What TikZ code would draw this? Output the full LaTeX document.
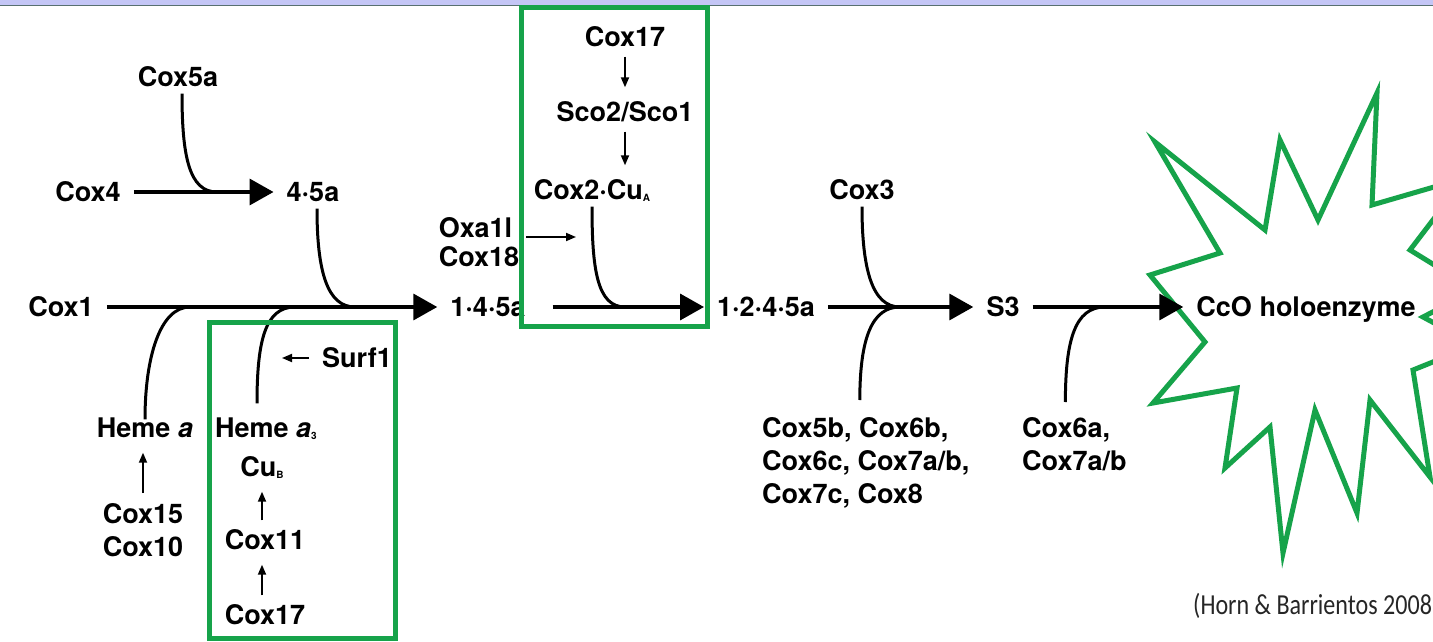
\documentclass[tikz,border=0pt]{standalone}
\usepackage{fontspec}
\setmainfont{TeX Gyre Heros}
\newfontfamily\capfont{Carlito}
\usepackage{xcolor}
\usetikzlibrary{arrows.meta}
\definecolor{boxgreen}{RGB}{22,163,74}
\definecolor{bandblue}{RGB}{196,198,246}
\definecolor{bandline}{RGB}{88,112,112}
\newcommand{\tinysub}[1]{\raisebox{-2pt}{\fontsize{10}{10}\selectfont #1}}
\tikzset{
  lbl/.style={font=\fontsize{27}{31}\selectfont\bfseries, inner sep=7pt, text height=19pt, text depth=0pt},
  multi/.style={font=\fontsize{27}{33}\selectfont\bfseries, inner sep=7pt, align=left},
  mainarrow/.style={line width=3.6pt, -{Triangle[length=24pt,width=26pt]}, shorten <=6pt, shorten >=6pt},
  joinline/.style={line width=3pt},
  smallarrow/.style={line width=1.8pt, -{Triangle[length=10pt,width=8pt]}, shorten <=3pt, shorten >=8pt},
  greenframe/.style={draw=boxgreen, line width=5pt}
}
\begin{document}
\begin{tikzpicture}[x=1pt,y=-1pt]
\useasboundingbox (0,0) rectangle (1433,642);
\clip (0,0) rectangle (1433,642);
\fill[white] (0,0) rectangle (1433,642);
\fill[bandblue] (0,0) rectangle (1433,5);
\draw[bandline, line width=1.5pt] (0,5.5) -- (1433,5.5);

\draw[boxgreen, line width=5pt] (1155,142) -- (1265,230) -- (1280,140) -- (1318,220) -- (1377,93) -- (1372,205) -- (1465,178) -- (1410,250) -- (1475,290) -- (1423,317) -- (1475,345) -- (1413,370) -- (1430,477) -- (1370,400) -- (1357,513) -- (1315,410) -- (1283,553) -- (1270,427) -- (1225,468) -- (1237,388) -- (1153,403) -- (1205,342) -- (1150,275) -- (1220,253) -- cycle;

\node[lbl] (cox5a) at (178,77) {Cox5a};
\node[lbl] (cox4) at (88,192) {Cox4};
\node[lbl] (n45a) at (313,192) {4·5a};
\node[lbl] (cox1) at (61,307) {Cox1};
\node[lbl] (n145a) at (488,307) {1·4·5a};
\node[lbl] (n1245a) at (766,307) {1·2·4·5a};
\node[lbl] (s3) at (1003,307) {S3};
\node[lbl] (cco) at (1306,307) {CcO holoenzyme};
\node[lbl] (hemea) at (145,428) {Heme \textit{a}};
\node[lbl] (hemea3) at (266,428) {Heme \textit{a}\tinysub{3}};
\node[lbl] (cub) at (262,467) {Cu\tinysub{B}};
\node[multi, align=center] (cox15) at (143,530) {Cox15\\Cox10};
\node[lbl] (cox11) at (265,540) {Cox11};
\node[lbl] (cox17b) at (265,615) {Cox17};
\node[lbl] (surf1) at (357,358) {Surf1};
\node[lbl] (cox17a) at (625,37) {Cox17};
\node[lbl] (sco) at (625,112) {Sco2/Sco1};
\node[lbl] (cox2) at (592,190) {Cox2·Cu\tinysub{A}};
\node[multi, font=\fontsize{27}{29}\selectfont\bfseries] (oxa) at (479,242) {Oxa1l\\Cox18};
\node[lbl] (cox3) at (862,190) {Cox3};
\node[multi, anchor=north west] (cox5b) at (755,410) {Cox5b, Cox6b,\\Cox6c, Cox7a/b,\\Cox7c, Cox8};
\node[multi, anchor=north west] (cox6a) at (1015,410) {Cox6a,\\Cox7a/b};
\node[font=\capfont\fontsize{29}{32}\selectfont, text=black!85, anchor=west, inner sep=0pt] (cite) at (1193,606) {\scalebox{0.83}[1]{(Horn \& Barrientos 2008}};

\coordinate (j5a) at (217,192);
\coordinate (j45) at (355,307);
\coordinate (jheme) at (190,307);
\coordinate (jheme3) at (295,307);
\coordinate (jcox2) at (625,307);
\coordinate (jcox3) at (900,307);
\coordinate (jcox6) at (1105,307);
\coordinate (surfend) at (282,358);
\coordinate (oxaend) at (576,237);

\draw[mainarrow] (cox4) -- (n45a);
\draw[mainarrow] (cox1) -- (n145a);
\draw[mainarrow, shorten <=20pt] (n145a) -- (n1245a);
\draw[mainarrow] (n1245a) -- (s3);
\draw[mainarrow] (s3) -- (cco);

\draw[joinline] ([xshift=4pt]cox5a.south) .. controls +(0,62) and +(-28,0) .. (j5a);
\draw[joinline] ([xshift=4pt]n45a.south) .. controls +(0,62) and +(-28,0) .. (j45);
\draw[joinline] ([yshift=-8pt]hemea.north) .. controls +(0,-62) and +(-30,0) .. (jheme);
\draw[joinline] ([shift={(-9,-8)}]hemea3.north) .. controls +(0,-62) and +(-30,0) .. (jheme3);
\draw[joinline] (cox2.south) .. controls +(0,62) and +(-28,0) .. (jcox2);
\draw[joinline] (cox3.south) .. controls +(0,62) and +(-28,0) .. (jcox3);
\draw[joinline] ([shift={(-6,-10)}]cox5b.north) .. controls +(0,-62) and +(-28,0) .. (jcox3);
\draw[joinline] ([shift={(-9,-8)}]cox6a.north) .. controls +(0,-62) and +(-30,0) .. (jcox6);

\draw[smallarrow] (cox17a) -- (sco);
\draw[smallarrow] (sco.south) -- (sco.south |- cox2.north);
\draw[smallarrow] (cox15.north) -- (cox15.north |- hemea.south);
\draw[smallarrow] ([xshift=-3pt]cox11.north) -- ([xshift=-3pt]cox11.north |- cub.south);
\draw[smallarrow] ([xshift=-3pt]cox17b.north) -- ([xshift=-3pt]cox17b.north |- cox11.south);
\draw[smallarrow, shorten <=6pt, shorten >=0pt] (surf1.west) -- (surfend);
\draw[smallarrow, shorten <=0pt, shorten >=0pt] (oxa.east |- oxaend) -- (oxaend);

\draw[greenframe] (521,8) rectangle (707,326);
\draw[greenframe] (209,322) rectangle (395,638);
\end{tikzpicture}
\end{document}
